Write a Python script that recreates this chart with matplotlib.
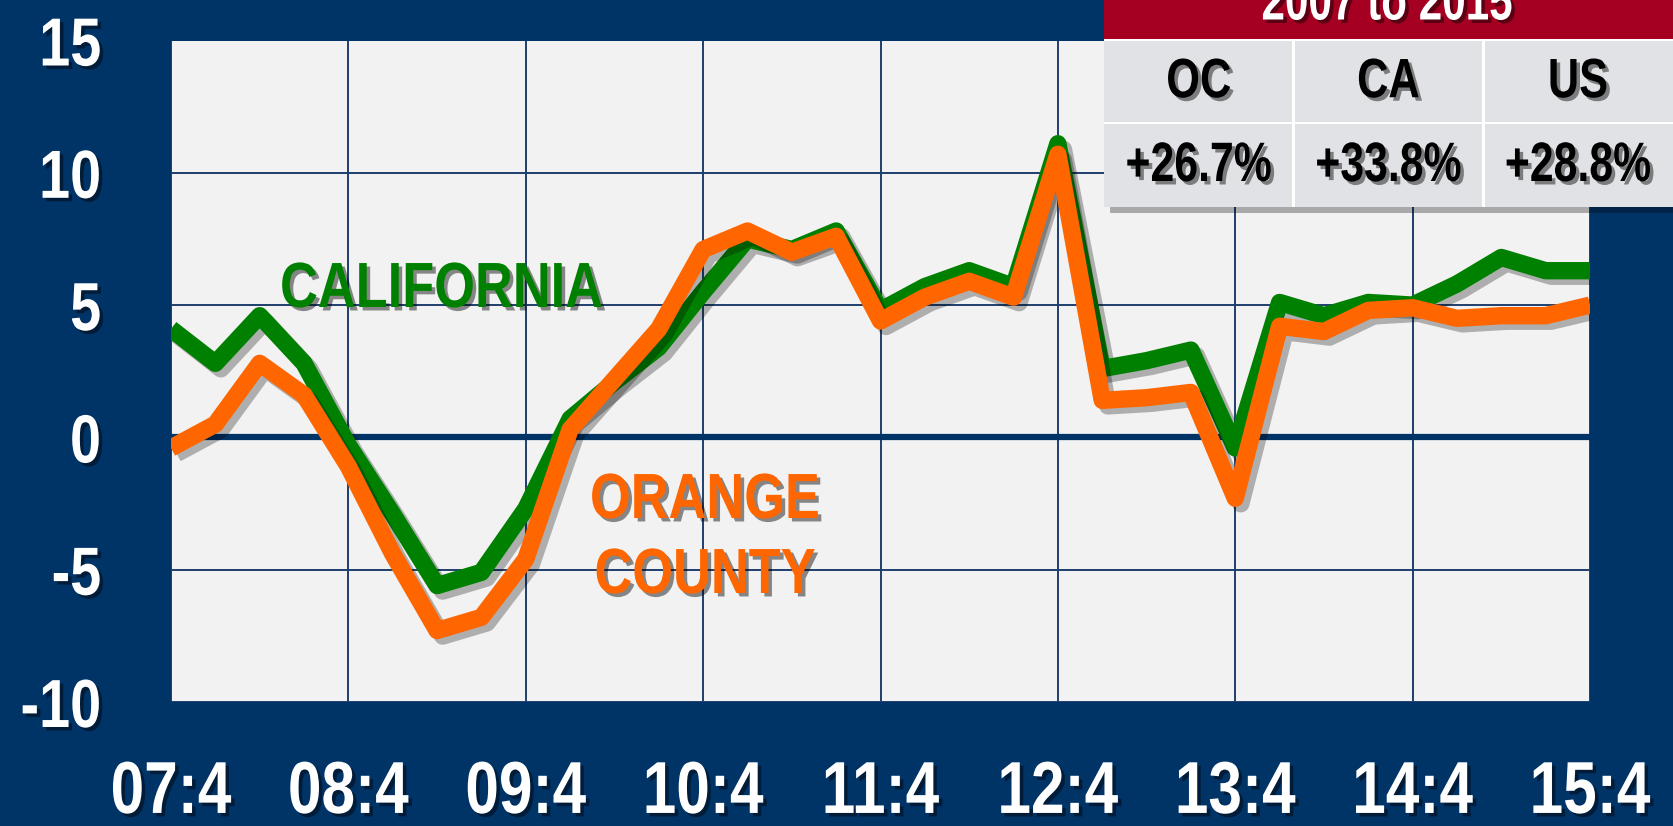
import matplotlib
matplotlib.use("Agg")
import matplotlib.pyplot as plt
import matplotlib.patheffects as pe
from matplotlib.patches import Rectangle
from matplotlib.transforms import Affine2D

# ---------------- data ----------------
quarters = ["07:4", "08:1", "08:2", "08:3", "08:4", "09:1", "09:2", "09:3", "09:4",
            "10:1", "10:2", "10:3", "10:4", "11:1", "11:2", "11:3", "11:4",
            "12:1", "12:2", "12:3", "12:4", "13:1", "13:2", "13:3", "13:4",
            "14:1", "14:2", "14:3", "14:4", "15:1", "15:2", "15:3", "15:4"]
california = [4.1, 2.8, 4.6, 2.8, -0.3, -2.9, -5.6, -5.1, -2.7, 0.7, 2.1, 3.4, 5.5,
              7.5, 7.1, 7.8, 4.8, 5.7, 6.3, 5.7, 11.1, 2.6, 2.9, 3.3, -0.4,
              5.1, 4.6, 5.1, 5.0, 5.8, 6.8, 6.3, 6.3]
orange_county = [-0.4, 0.5, 2.8, 1.6, -1.1, -4.4, -7.3, -6.8, -4.6, 0.3, 2.2, 4.1, 7.1,
                 7.8, 7.0, 7.6, 4.4, 5.3, 5.9, 5.3, 10.7, 1.4, 1.5, 1.7, -2.3,
                 4.2, 4.0, 4.8, 4.9, 4.5, 4.6, 4.6, 5.0]
yticks = [15, 10, 5, 0, -5, -10]
table_title = "2007 to 2015"
table_cols = ["OC", "CA", "US"]
table_vals = ["+26.7%", "+33.8%", "+28.8%"]

# ---------------- style ----------------
plt.rcParams["font.family"] = ["Liberation Sans", "DejaVu Sans"]
plt.rcParams["font.weight"] = "bold"

NAVY = "#003366"
GRID = "#1F3F6E"
PLOTBG = "#F2F2F2"
GREEN = "#008000"
ORANGE = "#FF6600"
RED = "#A50021"
CELL = "#E1E2E6"


class Narrow(pe.AbstractPathEffect):
    """Draws text glyphs horizontally condensed (like Arial Narrow), with a drop shadow."""

    def __init__(self, sx=0.82, anchor="center", shadow=True):
        super().__init__()
        self.sx = sx
        self.anchor = anchor
        self.inner = []
        if shadow:
            self.inner.append(pe.SimplePatchShadow(offset=(2.5, -2.5), shadow_rgbFace="black", alpha=0.45))
        self.inner.append(pe.Normal())

    def draw_path(self, renderer, gc, tpath, affine, rgbFace=None):
        v = tpath.vertices
        if len(v):
            xmin, xmax = v[:, 0].min(), v[:, 0].max()
        else:
            xmin = xmax = 0.0
        a = {"left": xmin, "center": 0.5 * (xmin + xmax), "right": xmax}[self.anchor]
        t = Affine2D().translate(-a, 0).scale(self.sx, 1).translate(a, 0) + affine
        for e in self.inner:
            e.draw_path(renderer, gc, tpath, t, rgbFace)


W, H = 1673, 826
fig = plt.figure(figsize=(W / 100, H / 100), dpi=100, facecolor=NAVY)
ax = fig.add_axes([171 / W, 1 - 702 / H, (1590 - 171) / W, (702 - 40.5) / H])
ax.set_facecolor(PLOTBG)

x = list(range(len(quarters)))
line_shadow = [pe.SimpleLineShadow(offset=(4, -4), shadow_color="black", alpha=0.28), pe.Normal()]

ax.plot(x, california, color=GREEN, lw=12.5, solid_joinstyle="round", solid_capstyle="butt",
        zorder=4, path_effects=line_shadow)
ax.plot(x, orange_county, color=ORANGE, lw=12.5, solid_joinstyle="round", solid_capstyle="butt",
        zorder=5, path_effects=line_shadow)

ax.set_xlim(0, len(quarters) - 1)
ax.set_ylim(-10, 15)
year_pos = [i for i, q in enumerate(quarters) if q.endswith(":4")]
ax.set_xticks(year_pos)
ax.set_xticklabels([quarters[i] for i in year_pos])
ax.set_yticks(yticks)
ax.set_yticklabels([str(v) for v in yticks])
ax.tick_params(axis="both", length=0, colors="white")
ax.tick_params(axis="x", pad=41, labelsize=53)
ax.tick_params(axis="y", pad=50, labelsize=49)
for lab in ax.get_xticklabels():
    lab.set_fontweight("bold")
    lab.set_path_effects([Narrow(anchor="center")])
for lab in ax.get_yticklabels():
    lab.set_fontweight("bold")
    lab.set_path_effects([Narrow(anchor="right")])

ax.grid(True, color=GRID, lw=1.4, zorder=1)
ax.set_axisbelow(True)
ax.axhline(0, color=NAVY, lw=4.5, zorder=2)
for s in ax.spines.values():
    s.set_visible(False)

ax.text(280 / W, 1 - 290 / H, "CALIFORNIA", transform=fig.transFigure, color=GREEN,
        fontsize=46, fontweight="bold", ha="left", va="center",
        path_effects=[Narrow(anchor="left")], zorder=6)
ax.text(705 / W, 1 - 501 / H, "ORANGE", transform=fig.transFigure, color=ORANGE,
        fontsize=46, fontweight="bold", ha="center", va="center",
        path_effects=[Narrow(anchor="center")], zorder=6)
ax.text(705 / W, 1 - 576 / H, "COUNTY", transform=fig.transFigure, color=ORANGE,
        fontsize=46, fontweight="bold", ha="center", va="center",
        path_effects=[Narrow(anchor="center")], zorder=6)

# ---------------- table ----------------
tl, tr = 1104, 1673
hdr_b, row1_b, row2_b = 39.5, 123, 207


def fx(px):
    return px / W


def fy(py):
    return 1 - py / H


fig.patches.append(Rectangle((fx(tl + 6), fy(row2_b + 6)), fx(tr - tl), fy(hdr_b) - fy(row2_b),
                             transform=fig.transFigure, facecolor="black", alpha=0.3,
                             edgecolor="none", zorder=8))
fig.patches.append(Rectangle((fx(tl), fy(hdr_b)), fx(tr - tl), 1 - fy(hdr_b) + 0.01,
                             transform=fig.transFigure, facecolor=RED, edgecolor="none", zorder=9))
fig.patches.append(Rectangle((fx(tl), fy(row2_b)), fx(tr - tl), fy(hdr_b) - fy(row2_b),
                             transform=fig.transFigure, facecolor="white", edgecolor="none", zorder=9))
colw = (tr - tl) / 3
for j in range(3):
    for (top, bot) in [(hdr_b + 2, row1_b - 1.5), (row1_b + 1.5, row2_b)]:
        l = tl + j * colw + (0 if j == 0 else 1.5)
        r = tl + (j + 1) * colw - (0 if j == 2 else 1.5)
        fig.patches.append(Rectangle((fx(l), fy(bot)), fx(r - l), fy(top) - fy(bot),
                                     transform=fig.transFigure, facecolor=CELL, edgecolor="none",
                                     zorder=10))
    cx = fx(tl + (j + 0.5) * colw)
    fig.text(cx, fy((hdr_b + row1_b) / 2 + 2), table_cols[j], ha="center", va="center", fontsize=40,
             fontweight="bold", color="black", path_effects=[Narrow(sx=0.78, anchor="center")], zorder=11)
    fig.text(cx, fy((row1_b + row2_b) / 2 + 2), table_vals[j], ha="center", va="center", fontsize=40,
             fontweight="bold", color="black", path_effects=[Narrow(sx=0.77, anchor="center")], zorder=11)

fig.text(fx(1387), fy(19.5), table_title, ha="center", va="baseline", fontsize=40,
         fontweight="bold", color="white", path_effects=[Narrow(sx=0.76, anchor="center")], zorder=11)

fig.savefig("out.png", dpi=100, facecolor=NAVY)
